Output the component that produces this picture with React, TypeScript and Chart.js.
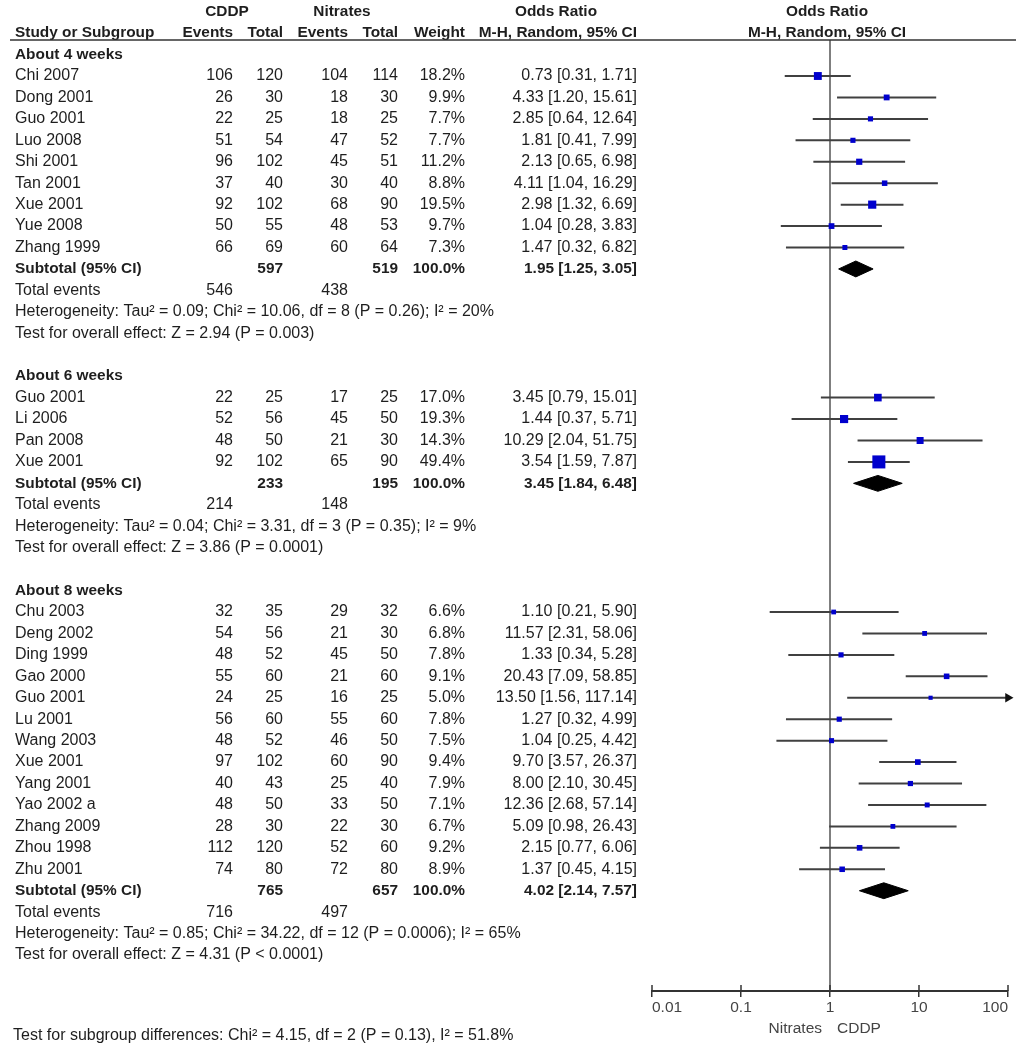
import React, { useEffect, useRef } from 'react';
import { Chart, registerables } from 'chart.js';

Chart.register(...registerables);

const FONT = '"Liberation Sans", Arial, Helvetica, sans-serif';

// ---------- About 4 weeks ----------
const g4Studies = ['Chi 2007', 'Dong 2001', 'Guo 2001', 'Luo 2008', 'Shi 2001', 'Tan 2001', 'Xue 2001', 'Yue 2008', 'Zhang 1999'];
const g4CddpEvents = [106, 26, 22, 51, 96, 37, 92, 50, 66];
const g4CddpTotal = [120, 30, 25, 54, 102, 40, 102, 55, 69];
const g4NitEvents = [104, 18, 18, 47, 45, 30, 68, 48, 60];
const g4NitTotal = [114, 30, 25, 52, 51, 40, 90, 53, 64];
const g4Weight = [18.2, 9.9, 7.7, 7.7, 11.2, 8.8, 19.5, 9.7, 7.3];
const g4OR = [0.73, 4.33, 2.85, 1.81, 2.13, 4.11, 2.98, 1.04, 1.47];
const g4Lower = [0.31, 1.2, 0.64, 0.41, 0.65, 1.04, 1.32, 0.28, 0.32];
const g4Upper = [1.71, 15.61, 12.64, 7.99, 6.98, 16.29, 6.69, 3.83, 6.82];

// ---------- About 6 weeks ----------
const g6Studies = ['Guo 2001', 'Li 2006', 'Pan 2008', 'Xue 2001'];
const g6CddpEvents = [22, 52, 48, 92];
const g6CddpTotal = [25, 56, 50, 102];
const g6NitEvents = [17, 45, 21, 65];
const g6NitTotal = [25, 50, 30, 90];
const g6Weight = [17.0, 19.3, 14.3, 49.4];
const g6OR = [3.45, 1.44, 10.29, 3.54];
const g6Lower = [0.79, 0.37, 2.04, 1.59];
const g6Upper = [15.01, 5.71, 51.75, 7.87];

// ---------- About 8 weeks ----------
const g8Studies = ['Chu 2003', 'Deng 2002', 'Ding 1999', 'Gao 2000', 'Guo 2001', 'Lu 2001', 'Wang 2003', 'Xue 2001', 'Yang 2001', 'Yao 2002 a', 'Zhang 2009', 'Zhou 1998', 'Zhu 2001'];
const g8CddpEvents = [32, 54, 48, 55, 24, 56, 48, 97, 40, 48, 28, 112, 74];
const g8CddpTotal = [35, 56, 52, 60, 25, 60, 52, 102, 43, 50, 30, 120, 80];
const g8NitEvents = [29, 21, 45, 21, 16, 55, 46, 60, 25, 33, 22, 52, 72];
const g8NitTotal = [32, 30, 50, 60, 25, 60, 50, 90, 40, 50, 30, 60, 80];
const g8Weight = [6.6, 6.8, 7.8, 9.1, 5.0, 7.8, 7.5, 9.4, 7.9, 7.1, 6.7, 9.2, 8.9];
const g8OR = [1.1, 11.57, 1.33, 20.43, 13.5, 1.27, 1.04, 9.7, 8.0, 12.36, 5.09, 2.15, 1.37];
const g8Lower = [0.21, 2.31, 0.34, 7.09, 1.56, 0.32, 0.25, 3.57, 2.1, 2.68, 0.98, 0.77, 0.45];
const g8Upper = [5.9, 58.06, 5.28, 58.85, 117.14, 4.99, 4.42, 26.37, 30.45, 57.14, 26.43, 6.06, 4.15];

// ---------- Subgroup summaries ----------
const subgroupTitles = ['About 4 weeks', 'About 6 weeks', 'About 8 weeks'];
const subCddpTotal = [597, 233, 765];
const subNitTotal = [519, 195, 657];
const subCddpEvents = [546, 214, 716];
const subNitEvents = [438, 148, 497];
const subWeight = [100.0, 100.0, 100.0];
const subOR = [1.95, 3.45, 4.02];
const subLower = [1.25, 1.84, 2.14];
const subUpper = [3.05, 6.48, 7.57];
const heterogeneityTexts = [
  'Heterogeneity: Tau\u00B2 = 0.09; Chi\u00B2 = 10.06, df = 8 (P = 0.26); I\u00B2 = 20%',
  'Heterogeneity: Tau\u00B2 = 0.04; Chi\u00B2 = 3.31, df = 3 (P = 0.35); I\u00B2 = 9%',
  'Heterogeneity: Tau\u00B2 = 0.85; Chi\u00B2 = 34.22, df = 12 (P = 0.0006); I\u00B2 = 65%',
];
const overallEffectTexts = [
  'Test for overall effect: Z = 2.94 (P = 0.003)',
  'Test for overall effect: Z = 3.86 (P = 0.0001)',
  'Test for overall effect: Z = 4.31 (P < 0.0001)',
];
const subgroupDifferencesText = 'Test for subgroup differences: Chi\u00B2 = 4.15, df = 2 (P = 0.13), I\u00B2 = 51.8%';

// ---------- Axis ----------
const xTicks = [0.01, 0.1, 1, 10, 100];
const xMin = 0.01;
const xMax = 100;
const favoursLeft = 'Nitrates';
const favoursRight = 'CDDP';

// ---------- Layout constants (pixels) ----------
const W = 1026;
const H = 1049;
const ROW0_Y = 76;
const ROW_H = 21.44;
const TOP_Y = 40;
const AXIS_Y = 991;
const PLOT_LEFT = 652;
const PLOT_RIGHT = 1008;
const yMin = (TOP_Y - ROW0_Y) / ROW_H;
const yMax = (AXIS_Y - ROW0_Y) / ROW_H;

const COL_NAME = 15;
const COL_CE = 233;
const COL_CT = 283;
const COL_NE = 348;
const COL_NT = 398;
const COL_W = 465;
const COL_OR = 637;

const TEXT = '#1e1e1e';
const BLUE = '#0000CD';
const LINE = '#404040';

type Group = {
  title: string;
  studies: string[];
  ce: number[];
  ct: number[];
  ne: number[];
  nt: number[];
  w: number[];
  or: number[];
  lo: number[];
  hi: number[];
  idx: number;
};

const groups: Group[] = [
  { title: subgroupTitles[0], studies: g4Studies, ce: g4CddpEvents, ct: g4CddpTotal, ne: g4NitEvents, nt: g4NitTotal, w: g4Weight, or: g4OR, lo: g4Lower, hi: g4Upper, idx: 0 },
  { title: subgroupTitles[1], studies: g6Studies, ce: g6CddpEvents, ct: g6CddpTotal, ne: g6NitEvents, nt: g6NitTotal, w: g6Weight, or: g6OR, lo: g6Lower, hi: g6Upper, idx: 1 },
  { title: subgroupTitles[2], studies: g8Studies, ce: g8CddpEvents, ct: g8CddpTotal, ne: g8NitEvents, nt: g8NitTotal, w: g8Weight, or: g8OR, lo: g8Lower, hi: g8Upper, idx: 2 },
];

// Row indices for each group
type RowInfo = { title: number; first: number; subtotal: number; events: number; het: number; test: number };
const rowInfo: RowInfo[] = [];
{
  let r = -1;
  for (const g of groups) {
    const first = r + 1;
    const subtotal = first + g.studies.length;
    rowInfo.push({ title: r, first, subtotal, events: subtotal + 1, het: subtotal + 2, test: subtotal + 3 });
    r = subtotal + 5;
  }
}

const fmt2 = (v: number) => v.toFixed(2);
const orText = (o: number, l: number, h: number) => `${fmt2(o)} [${fmt2(l)}, ${fmt2(h)}]`;

const tablePlugin = {
  id: 'forestTable',
  afterDraw(chart: any) {
    const ctx: CanvasRenderingContext2D = chart.ctx;
    const ys = chart.scales.y;
    const xs = chart.scales.x;
    const Y = (r: number) => ys.getPixelForValue(r);
    const ref = xs.getPixelForValue(1);
    ctx.save();
    ctx.textBaseline = 'middle';
    const put = (s: string, x: number, y: number, align: CanvasTextAlign, bold = false, color = TEXT, size?: number) => {
      ctx.font = `${bold ? 'bold ' : ''}${size ?? (bold ? 15.4 : 16)}px ${FONT}`;
      ctx.fillStyle = color;
      ctx.textAlign = align;
      ctx.fillText(s, x, y);
    };

    // headers
    const h1 = Y(-3);
    const h2 = Y(-2);
    put('CDDP', 227, h1, 'center', true);
    put('Nitrates', 342, h1, 'center', true);
    put('Odds Ratio', 556, h1, 'center', true);
    put('Odds Ratio', ref - 3, h1, 'center', true);
    put('Study or Subgroup', COL_NAME, h2, 'left', true);
    put('Events', COL_CE, h2, 'right', true);
    put('Total', COL_CT, h2, 'right', true);
    put('Events', COL_NE, h2, 'right', true);
    put('Total', COL_NT, h2, 'right', true);
    put('Weight', COL_W, h2, 'right', true);
    put('M-H, Random, 95% CI', COL_OR, h2, 'right', true);
    put('M-H, Random, 95% CI', ref - 3, h2, 'center', true);

    // header rule
    ctx.strokeStyle = '#333';
    ctx.lineWidth = 1.5;
    ctx.beginPath();
    ctx.moveTo(10, chart.chartArea.top);
    ctx.lineTo(1016, chart.chartArea.top);
    ctx.stroke();

    groups.forEach((g, gi) => {
      const ri = rowInfo[gi];
      put(g.title, COL_NAME, Y(ri.title), 'left', true);
      g.studies.forEach((s, i) => {
        const y = Y(ri.first + i);
        put(s, COL_NAME, y, 'left');
        put(String(g.ce[i]), COL_CE, y, 'right');
        put(String(g.ct[i]), COL_CT, y, 'right');
        put(String(g.ne[i]), COL_NE, y, 'right');
        put(String(g.nt[i]), COL_NT, y, 'right');
        put(`${g.w[i].toFixed(1)}%`, COL_W, y, 'right');
        put(orText(g.or[i], g.lo[i], g.hi[i]), COL_OR, y, 'right');
      });
      const ys2 = Y(ri.subtotal);
      put('Subtotal (95% CI)', COL_NAME, ys2, 'left', true);
      put(String(subCddpTotal[gi]), COL_CT, ys2, 'right', true);
      put(String(subNitTotal[gi]), COL_NT, ys2, 'right', true);
      put(`${subWeight[gi].toFixed(1)}%`, COL_W, ys2, 'right', true);
      put(orText(subOR[gi], subLower[gi], subUpper[gi]), COL_OR, ys2, 'right', true);
      const ye = Y(ri.events);
      put('Total events', COL_NAME, ye, 'left');
      put(String(subCddpEvents[gi]), COL_CE, ye, 'right');
      put(String(subNitEvents[gi]), COL_NE, ye, 'right');
      put(heterogeneityTexts[gi], COL_NAME, Y(ri.het), 'left');
      put(overallEffectTexts[gi], COL_NAME, Y(ri.test), 'left');
    });

    // upward tick stubs on the axis
    const axisY = chart.chartArea.bottom;
    ctx.strokeStyle = '#333';
    ctx.lineWidth = 1.5;
    for (const v of xTicks) {
      const x = Math.round(xs.getPixelForValue(v));
      ctx.beginPath();
      ctx.moveTo(x, axisY - 6);
      ctx.lineTo(x, axisY);
      ctx.stroke();
    }

    // favours labels
    put(favoursLeft, ref - 8, 1029, 'right', false, '#444', 15.5);
    put(favoursRight, ref + 7, 1029, 'left', false, '#444', 15.5);

    // subgroup differences
    put(subgroupDifferencesText, 13, 1036, 'left');
    ctx.restore();
  },
};

export default function App() {
  const ref = useRef<HTMLCanvasElement | null>(null);

  useEffect(() => {
    document.documentElement.style.overflow = 'hidden';
    document.body.style.margin = '0';
    const canvas = ref.current;
    if (!canvas) return;

    const squares: any[] = [];
    const radii: number[] = [];
    const ciSegments: any[] = [];
    const arrows: any[] = [];
    groups.forEach((g, gi) => {
      const ri = rowInfo[gi];
      g.studies.forEach((_, i) => {
        const r = ri.first + i;
        squares.push({ x: g.or[i], y: r });
        radii.push(1.31 * Math.sqrt(g.w[i]));
        ciSegments.push({ x: Math.max(g.lo[i], xMin), y: r });
        ciSegments.push({ x: Math.min(g.hi[i], xMax), y: r });
        ciSegments.push({ x: null, y: null });
        if (g.hi[i] > xMax) arrows.push({ x: xMax, y: r });
      });
    });

    const diamondHalf = 0.37;
    const diamondSets = groups.map((_, gi) => {
      const r = rowInfo[gi].subtotal;
      return {
        type: 'scatter',
        data: [
          { x: subLower[gi], y: r },
          { x: subOR[gi], y: r - diamondHalf },
          { x: subUpper[gi], y: r },
          { x: subOR[gi], y: r + diamondHalf },
          { x: subLower[gi], y: r },
        ],
        showLine: true,
        fill: 'shape',
        tension: 0,
        borderColor: '#000',
        borderWidth: 1,
        backgroundColor: '#000',
        pointRadius: 0,
        order: 3,
      };
    });

    const chart = new Chart(canvas, {
      type: 'scatter',
      data: {
        datasets: [
          {
            data: squares,
            pointStyle: 'rect',
            pointRadius: radii,
            pointBackgroundColor: BLUE,
            pointBorderColor: BLUE,
            pointBorderWidth: 0,
            showLine: false,
            order: 1,
          },
          {
            data: arrows,
            pointStyle: 'triangle',
            rotation: 90,
            pointRadius: 5.5,
            pointBackgroundColor: '#111',
            pointBorderColor: '#111',
            pointBorderWidth: 0,
            showLine: false,
            clip: false,
            order: 2,
          },
          ...diamondSets,
          {
            data: ciSegments,
            showLine: true,
            spanGaps: false,
            borderColor: LINE,
            borderWidth: 2,
            pointRadius: 0,
            order: 4,
          },
          {
            data: [
              { x: 1, y: yMin },
              { x: 1, y: yMax },
            ],
            showLine: true,
            borderColor: '#555',
            borderWidth: 1.5,
            pointRadius: 0,
            order: 5,
          },
        ] as any,
      },
      options: {
        animation: false,
        responsive: false,
        maintainAspectRatio: false,
        events: [],
        layout: { padding: { left: PLOT_LEFT, right: W - PLOT_RIGHT, top: TOP_Y, bottom: 0 } },
        scales: {
          x: {
            type: 'logarithmic',
            min: xMin,
            max: xMax,
            position: 'bottom',
            afterBuildTicks: (axis: any) => {
              axis.ticks = xTicks.map((v) => ({ value: v }));
            },
            afterFit: (axis: any) => {
              axis.height = H - AXIS_Y;
            },
            grid: {
              drawOnChartArea: false,
              drawTicks: true,
              tickLength: 6,
              color: '#333',
              lineWidth: 1.5,
            },
            border: { display: true, color: '#333', width: 2 },
            ticks: {
              autoSkip: false,
              maxRotation: 0,
              minRotation: 0,
              align: 'inner',
              padding: 1,
              color: '#444',
              font: { family: FONT, size: 15.5 },
              callback: (v: any) => String(v),
            },
          },
          y: {
            type: 'linear',
            display: false,
            reverse: true,
            min: yMin,
            max: yMax,
          },
        },
        plugins: {
          legend: { display: false },
          tooltip: { enabled: false },
        },
      } as any,
      plugins: [tablePlugin],
    });

    return () => chart.destroy();
  }, []);

  return (
    <div style={{ position: 'absolute', left: 0, top: 0, width: W, height: H, background: '#fff' }}>
      <canvas ref={ref} width={W} height={H} style={{ display: 'block' }} />
    </div>
  );
}
